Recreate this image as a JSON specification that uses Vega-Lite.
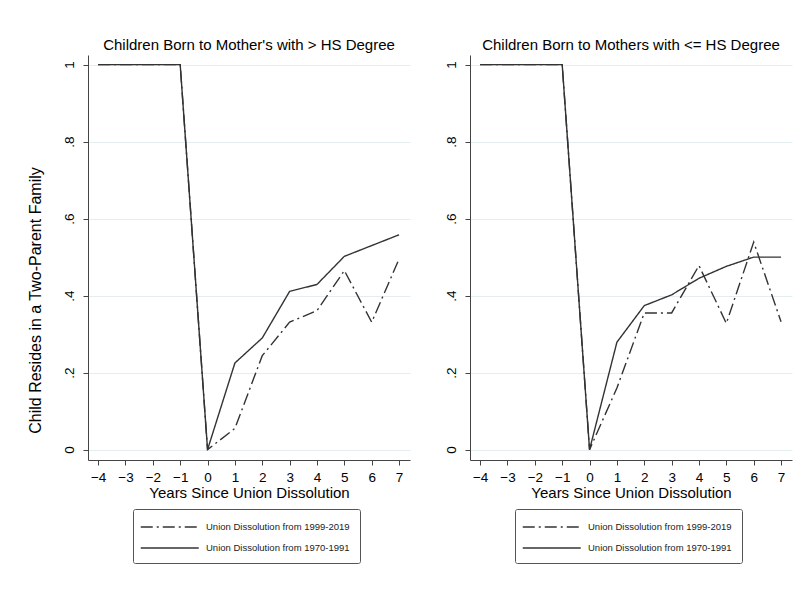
{
  "$schema": "https://vega.github.io/schema/vega-lite/v6.json",
  "background": "white",
  "padding": {"left": 27, "top": 38, "right": 5, "bottom": 5},
  "config": {
    "font": "Liberation Sans",
    "view": {"stroke": null},
    "axis": {
      "labelFont": "Liberation Sans",
      "titleFont": "Liberation Sans",
      "labelColor": "#000",
      "titleColor": "#000",
      "domainColor": "#444",
      "tickColor": "#444",
      "labelFontSize": 13.5,
      "titleFontSize": 15,
      "titleFontWeight": "normal",
      "grid": false,
      "tickSize": 5
    },
    "title": {"fontSize": 15, "fontWeight": "normal", "font": "Liberation Sans", "offset": 2, "color": "#000"},
    "legend": {
      "orient": "none",
      "legendX": 45,
      "legendY": 454,
      "title": null,
      "direction": "vertical",
      "symbolType": "M-1,0H7",
      "symbolSize": 210,
      "symbolStrokeColor": "#333",
      "symbolStrokeWidth": 1.3,
      "symbolFillColor": "transparent",
      "symbolOffset": -3,
      "labelFont": "Liberation Sans",
      "labelFontSize": 9.5,
      "labelColor": "#222",
      "labelOffset": 50,
      "labelLimit": 300,
      "rowPadding": 8,
      "padding": 10,
      "strokeColor": "#555",
      "cornerRadius": 2
    }
  },
  "datasets": {
    "rows": [
      {"panel": "A", "series": "Union Dissolution from 1970-1991", "year": -4, "share": 1},
      {"panel": "A", "series": "Union Dissolution from 1970-1991", "year": -3, "share": 1},
      {"panel": "A", "series": "Union Dissolution from 1970-1991", "year": -2, "share": 1},
      {"panel": "A", "series": "Union Dissolution from 1970-1991", "year": -1, "share": 1},
      {"panel": "A", "series": "Union Dissolution from 1970-1991", "year": 0, "share": 0},
      {"panel": "A", "series": "Union Dissolution from 1970-1991", "year": 1, "share": 0.225},
      {"panel": "A", "series": "Union Dissolution from 1970-1991", "year": 2, "share": 0.29},
      {"panel": "A", "series": "Union Dissolution from 1970-1991", "year": 3, "share": 0.411},
      {"panel": "A", "series": "Union Dissolution from 1970-1991", "year": 4, "share": 0.429},
      {"panel": "A", "series": "Union Dissolution from 1970-1991", "year": 5, "share": 0.502},
      {"panel": "A", "series": "Union Dissolution from 1970-1991", "year": 6, "share": 0.53},
      {"panel": "A", "series": "Union Dissolution from 1970-1991", "year": 7, "share": 0.558},
      {"panel": "A", "series": "Union Dissolution from 1999-2019", "year": -4, "share": 1},
      {"panel": "A", "series": "Union Dissolution from 1999-2019", "year": -3, "share": 1},
      {"panel": "A", "series": "Union Dissolution from 1999-2019", "year": -2, "share": 1},
      {"panel": "A", "series": "Union Dissolution from 1999-2019", "year": -1, "share": 1},
      {"panel": "A", "series": "Union Dissolution from 1999-2019", "year": 0, "share": 0},
      {"panel": "A", "series": "Union Dissolution from 1999-2019", "year": 1, "share": 0.055},
      {"panel": "A", "series": "Union Dissolution from 1999-2019", "year": 2, "share": 0.244},
      {"panel": "A", "series": "Union Dissolution from 1999-2019", "year": 3, "share": 0.331},
      {"panel": "A", "series": "Union Dissolution from 1999-2019", "year": 4, "share": 0.361},
      {"panel": "A", "series": "Union Dissolution from 1999-2019", "year": 5, "share": 0.465},
      {"panel": "A", "series": "Union Dissolution from 1999-2019", "year": 6, "share": 0.331},
      {"panel": "A", "series": "Union Dissolution from 1999-2019", "year": 7, "share": 0.495},
      {"panel": "B", "series": "Union Dissolution from 1970-1991", "year": -4, "share": 1},
      {"panel": "B", "series": "Union Dissolution from 1970-1991", "year": -3, "share": 1},
      {"panel": "B", "series": "Union Dissolution from 1970-1991", "year": -2, "share": 1},
      {"panel": "B", "series": "Union Dissolution from 1970-1991", "year": -1, "share": 1},
      {"panel": "B", "series": "Union Dissolution from 1970-1991", "year": 0, "share": 0},
      {"panel": "B", "series": "Union Dissolution from 1970-1991", "year": 1, "share": 0.279},
      {"panel": "B", "series": "Union Dissolution from 1970-1991", "year": 2, "share": 0.374},
      {"panel": "B", "series": "Union Dissolution from 1970-1991", "year": 3, "share": 0.402},
      {"panel": "B", "series": "Union Dissolution from 1970-1991", "year": 4, "share": 0.445},
      {"panel": "B", "series": "Union Dissolution from 1970-1991", "year": 5, "share": 0.476},
      {"panel": "B", "series": "Union Dissolution from 1970-1991", "year": 6, "share": 0.5},
      {"panel": "B", "series": "Union Dissolution from 1970-1991", "year": 7, "share": 0.5},
      {"panel": "B", "series": "Union Dissolution from 1999-2019", "year": -4, "share": 1},
      {"panel": "B", "series": "Union Dissolution from 1999-2019", "year": -3, "share": 1},
      {"panel": "B", "series": "Union Dissolution from 1999-2019", "year": -2, "share": 1},
      {"panel": "B", "series": "Union Dissolution from 1999-2019", "year": -1, "share": 1},
      {"panel": "B", "series": "Union Dissolution from 1999-2019", "year": 0, "share": 0},
      {"panel": "B", "series": "Union Dissolution from 1999-2019", "year": 1, "share": 0.16},
      {"panel": "B", "series": "Union Dissolution from 1999-2019", "year": 2, "share": 0.355},
      {"panel": "B", "series": "Union Dissolution from 1999-2019", "year": 3, "share": 0.355},
      {"panel": "B", "series": "Union Dissolution from 1999-2019", "year": 4, "share": 0.478},
      {"panel": "B", "series": "Union Dissolution from 1999-2019", "year": 5, "share": 0.328},
      {"panel": "B", "series": "Union Dissolution from 1999-2019", "year": 6, "share": 0.539},
      {"panel": "B", "series": "Union Dissolution from 1999-2019", "year": 7, "share": 0.332}
    ]
  },
  "spacing": 34,
  "resolve": {"legend": {"strokeDash": "independent"}, "scale": {"strokeDash": "independent"}},
  "hconcat": [
    {
      "title": "Children Born to Mother's with > HS Degree",
      "width": 322,
      "height": 405,
      "data": {"name": "rows"},
      "transform": [{"filter": "datum.panel == 'A'"}],
      "mark": {"type": "line", "color": "#333", "strokeWidth": 1.4},
      "encoding": {
        "x": {
          "field": "year", "type": "quantitative",
          "scale": {"domain": [-4.37, 7.4], "nice": false, "zero": false},
          "axis": {"values": [-4, -3, -2, -1, 0, 1, 2, 3, 4, 5, 6, 7], "title": "Years Since Union Dissolution", "labelPadding": 5, "titlePadding": 2, "labelFlush": false}
        },
        "y": {
          "field": "share", "type": "quantitative",
          "scale": {"domain": [-0.027, 1.025], "nice": false, "zero": false},
          "axis": {
            "values": [0, 0.2, 0.4, 0.6, 0.8, 1],
            "labelExpr": "datum.value == 0 ? '0' : datum.value == 1 ? '1' : '.' + format(datum.value * 10, 'd')",
            "labelAngle": -90,
            "labelPadding": 7,
            "grid": true,
            "gridColor": "#e4eef0",
            "title": "Child Resides in a Two-Parent Family",
            "titleFontSize": 16,
            "titlePadding": 19,
            "titleY": 245
          }
        },
        "strokeDash": {
          "field": "series", "type": "nominal",
          "scale": {"domain": ["Union Dissolution from 1999-2019", "Union Dissolution from 1970-1991"], "range": [[12, 4, 2, 4], [1, 0]]}
        }
      }
    },
    {
      "title": "Children Born to Mothers with <= HS Degree",
      "width": 322,
      "height": 405,
      "data": {"name": "rows"},
      "transform": [{"filter": "datum.panel == 'B'"}],
      "mark": {"type": "line", "color": "#333", "strokeWidth": 1.4},
      "encoding": {
        "x": {
          "field": "year", "type": "quantitative",
          "scale": {"domain": [-4.37, 7.4], "nice": false, "zero": false},
          "axis": {"values": [-4, -3, -2, -1, 0, 1, 2, 3, 4, 5, 6, 7], "title": "Years Since Union Dissolution", "labelPadding": 5, "titlePadding": 2, "labelFlush": false}
        },
        "y": {
          "field": "share", "type": "quantitative",
          "scale": {"domain": [-0.027, 1.025], "nice": false, "zero": false},
          "axis": {
            "values": [0, 0.2, 0.4, 0.6, 0.8, 1],
            "labelExpr": "datum.value == 0 ? '0' : datum.value == 1 ? '1' : '.' + format(datum.value * 10, 'd')",
            "labelAngle": -90,
            "labelPadding": 7,
            "grid": true,
            "gridColor": "#e4eef0",
            "title": null
          }
        },
        "strokeDash": {
          "field": "series", "type": "nominal",
          "scale": {"domain": ["Union Dissolution from 1999-2019", "Union Dissolution from 1970-1991"], "range": [[12, 4, 2, 4], [1, 0]]}
        }
      }
    }
  ]
}
